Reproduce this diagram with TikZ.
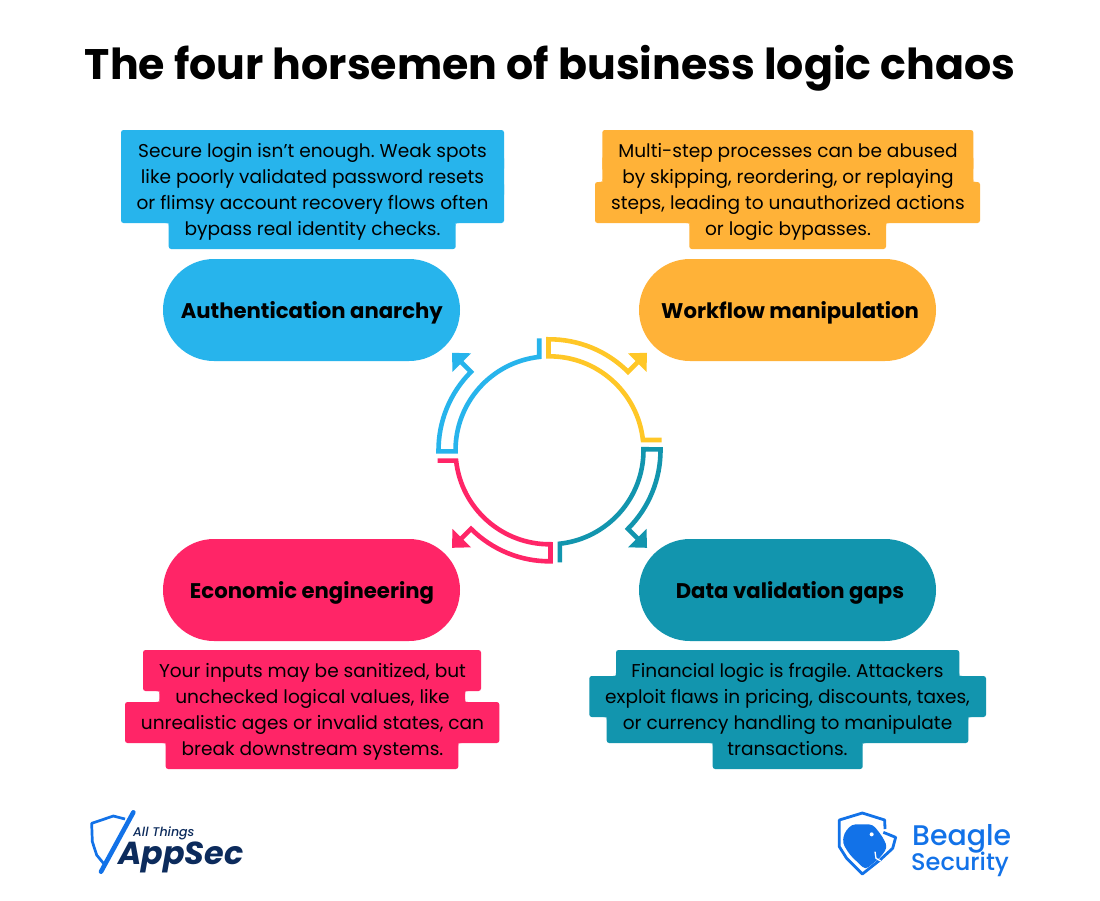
\documentclass[tikz,border=0pt]{standalone}
\usepackage{fontspec}
\setmainfont{Poppins}
\newfontfamily\popmed{Poppins Medium}
\definecolor{cblue}{HTML}{27B4EC}
\definecolor{corange}{HTML}{FFB238}
\definecolor{cyellow}{HTML}{FFC727}
\definecolor{cteal}{HTML}{1295AE}
\definecolor{cpink}{HTML}{FF2567}
\definecolor{lblue}{HTML}{1272E8}
\definecolor{lnavy}{HTML}{0C2B5C}
\tikzset{
  pill/.style={fill=#1,rounded corners=51pt,minimum width=297pt,minimum height=102pt,inner sep=0pt},
  pilltext/.style={anchor=base,inner sep=0pt,font=\fontsize{21.2}{25}\selectfont\bfseries,text=black},
  bodytext/.style={anchor=base,inner sep=0pt,font=\frenchspacing\fontsize{18.55}{22}\selectfont,text=black},
  ringline/.style={line width=4.6pt,miter limit=10},
}
\newcommand{\rowbox}[4]{\fill[#1,rounded corners=2.5pt] (#2,#4) rectangle (#3,#4+41);}
% concave fillet at an inner corner (colour, x, y, x direction, y direction)
\newcommand{\fillet}[5]{\fill[#1] (#2,#3) -- (#2+#4*3,#3) .. controls (#2,#3) .. (#2,#3+#5*3) -- cycle;}
\begin{document}
\begin{tikzpicture}[x=1pt,y=-1pt]
\useasboundingbox (0,0) rectangle (1100,900);
\fill[white] (0,0) rectangle (1100,900);
\node[anchor=base,inner sep=0pt,font=\fontsize{42.7}{50}\selectfont\bfseries] (title) at (550,79) {The four horsemen of business logic chaos};

% text backgrounds
\rowbox{cblue}{121}{504}{130}\rowbox{cblue}{121}{504}{156}\rowbox{cblue}{121}{504}{182}\rowbox{cblue}{168.7}{455.7}{208}
\fillet{cblue}{168.7}{223}{-1}{1}\fillet{cblue}{455.7}{223}{1}{1}
\rowbox{corange}{602.3}{973.3}{130}\rowbox{corange}{602.3}{973.3}{156}\rowbox{corange}{595}{980}{182}\rowbox{corange}{689.3}{886}{208}
\fillet{corange}{602.3}{182}{-1}{-1}\fillet{corange}{973.3}{182}{1}{-1}
\fillet{corange}{689.3}{223}{-1}{1}\fillet{corange}{886}{223}{1}{1}
\rowbox{cpink}{143}{481}{650}\rowbox{cpink}{159.3}{465}{676}\rowbox{cpink}{125}{499.3}{702}\rowbox{cpink}{165.7}{458.3}{728}
\fillet{cpink}{159.3}{691}{-1}{1}\fillet{cpink}{465}{691}{1}{1}
\fillet{cpink}{159.3}{702}{-1}{-1}\fillet{cpink}{465}{702}{1}{-1}
\fillet{cpink}{165.7}{743}{-1}{1}\fillet{cpink}{458.3}{743}{1}{1}
\rowbox{cteal}{616}{959.3}{650}\rowbox{cteal}{589.3}{986}{676}\rowbox{cteal}{606.7}{968.3}{702}\rowbox{cteal}{712.7}{862.7}{728}
\fillet{cteal}{616}{676}{-1}{-1}\fillet{cteal}{959.3}{676}{1}{-1}
\fillet{cteal}{606.7}{717}{-1}{1}\fillet{cteal}{968.3}{717}{1}{1}
\fillet{cteal}{712.7}{743}{-1}{1}\fillet{cteal}{862.7}{743}{1}{1}

% body text
\node[bodytext] (a1) at (312.5,157.5) {Secure login isn’t enough. Weak spots};
\node[bodytext] (a2) at (312.5,183.5) {like poorly validated password resets};
\node[bodytext] (a3) at (312.5,209.5) {or flimsy account recovery flows often};
\node[bodytext] (a4) at (312.5,235.5) {bypass real identity checks.};
\node[bodytext] (b1) at (788,157.5) {Multi-step processes can be abused};
\node[bodytext] (b2) at (788,183.5) {by skipping, reordering, or replaying};
\node[bodytext] (b3) at (788,209.5) {steps, leading to unauthorized actions};
\node[bodytext] (b4) at (788,235.5) {or logic bypasses.};
\node[bodytext] (c1) at (312.5,677.5) {Your inputs may be sanitized, but};
\node[bodytext] (c2) at (312.5,703.5) {unchecked logical values, like};
\node[bodytext] (c3) at (312.5,729.5) {unrealistic ages or invalid states, can};
\node[bodytext] (c4) at (312.5,755.5) {break downstream systems.};
\node[bodytext] (d1) at (787.5,677.5) {Financial logic is fragile. Attackers};
\node[bodytext] (d2) at (787.5,703.5) {exploit flaws in pricing, discounts, taxes,};
\node[bodytext] (d3) at (787.5,729.5) {or currency handling to manipulate};
\node[bodytext] (d4) at (787.5,755.5) {transactions.};

% pills
\node[pill=cblue] (auth) at (311.5,310) {};
\node[pill=corange] (work) at (787.5,310) {};
\node[pill=cpink] (econ) at (311.5,590) {};
\node[pill=cteal] (data) at (787.5,590) {};
\node[pilltext] (authl) at (311.8,318.2) {Authentication anarchy};
\node[pilltext] (workl) at (790,318.2) {Workflow manipulation};
\node[pilltext] (econl) at (312,598.2) {Economic engineering};
\node[pilltext] (datal) at (790,598.2) {Data validation gaps};

% ring of arrows
\foreach \ang/\col in {0/cyellow,-90/cteal,-180/cpink,-270/cblue}{
  \begin{scope}[shift={(549.5,450.3)},x=1pt,y=1pt,rotate=\ang]
    \draw[ringline,draw=\col] (112,10.3) -- (93.4,10.3) arc[start angle=6.3,end angle=90.6,radius=94]
       -- (-1,111) arc[start angle=90.5,end angle=45,radius=111] -- (88,88);
    \fill[\col] (97.5,97.5) -- (78.5,97) -- (97,78.5) -- cycle;
  \end{scope}
}

% AppSec logo
\begin{scope}[shift={(85,805)},scale=1/3]
  \draw[lblue,line width=2.7pt,line join=round] (120,42) -- (85,33) -- (20,55) -- (22,110) -- (35,150) -- (58,178);
  \draw[lblue,line width=4.6pt,line cap=round] (145,22) -- (48,200);
\end{scope}
\node[anchor=base west,inner sep=0pt,text=lnavy,font=\fontsize{12.6}{16}\popmed\itshape] (allthings) at (133,836) {All Things};
\node[anchor=base west,inner sep=0pt,text=lnavy,font=\fontsize{31.8}{36}\selectfont\bfseries\itshape] (appsec) at (118,864.5) {AppSec};

% Beagle logo
\begin{scope}[shift={(830,805)},scale=1/3]
  \draw[lblue,line width=2.8pt,line join=round] (165,72) -- (164,45) -- (97,24) -- (28,45) -- (28,125) -- (50,160) -- (97,207) -- (150,165) -- (188,130) -- (197,97) -- (160,82);
  \fill[lblue,rounded corners=4pt] (65,58) -- (128,58) -- (150,85) -- (163,105) -- (172,128) -- (150,158) -- (106,194) -- (60,150) -- (38,115) -- (42,85) -- cycle;
  \fill[white] (125,88) circle[radius=6];
  \draw[white,line width=1.3pt] (135,140) -- (138,160) -- (152,168);
\end{scope}
\node[anchor=base west,inner sep=0pt,text=lblue,font=\fontsize{28.4}{32}\popmed] (beagle) at (912,845) {Beagle};
\node[anchor=base west,inner sep=0pt,text=lblue,font=\fontsize{24}{24}\popmed] (security) at (911,870) {Security};
\end{tikzpicture}
\end{document}
